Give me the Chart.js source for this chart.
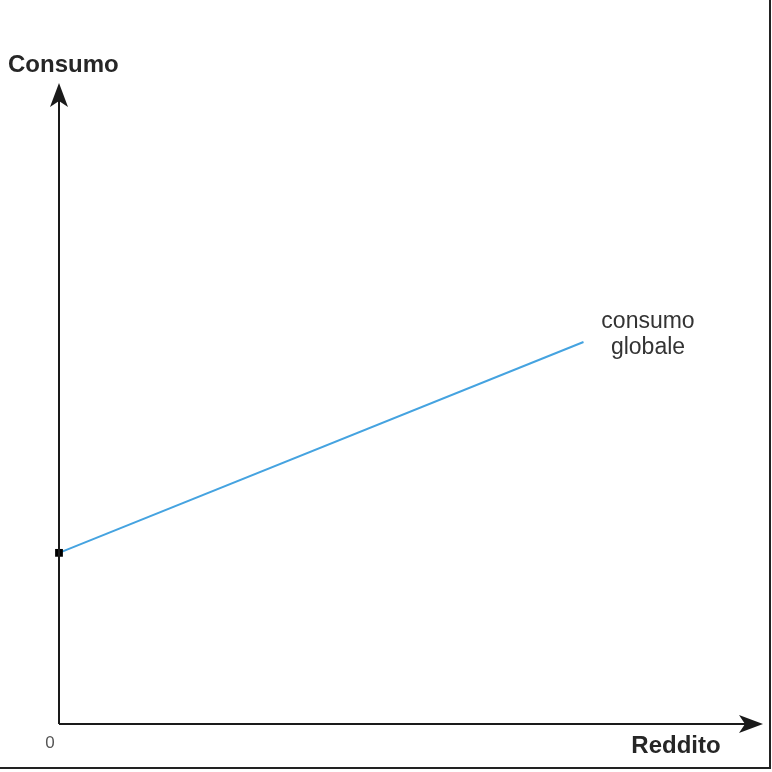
<!DOCTYPE html>
<html>
<head>
<meta charset="utf-8">
<script src="https://cdn.jsdelivr.net/npm/chart.js@4/dist/chart.umd.min.js"></script>
<style>
html,body{margin:0;padding:0;background:#fff;}
#wrap{width:772px;height:772px;position:relative;}
</style>
</head>
<body>
<div id="wrap"><canvas id="c" width="772" height="772"></canvas></div>
<script>
const reddito = [0, 7.45];
const consumo = [2.67, 5.96];
const yAxisTitle = 'Consumo';
const xAxisTitle = 'Reddito';
const originLabel = '0';
const seriesLabel = ['consumo', 'globale'];

const axesPlugin = {
  id: 'axesPlugin',
  afterDraw(chart) {
    const ctx = chart.ctx;
    const xs = chart.scales.x, ys = chart.scales.y;
    const x0 = xs.getPixelForValue(0), y0 = ys.getPixelForValue(0);
    const xEnd = xs.getPixelForValue(xs.max), yEnd = ys.getPixelForValue(ys.max);
    ctx.save();
    ctx.strokeStyle = '#1a1a1a';
    ctx.fillStyle = '#1a1a1a';
    ctx.lineWidth = 2;
    ctx.beginPath();
    ctx.moveTo(x0, y0); ctx.lineTo(xEnd - 12, y0);
    ctx.moveTo(x0, y0); ctx.lineTo(x0, yEnd + 12);
    ctx.stroke();
    // arrows
    ctx.beginPath();
    ctx.moveTo(xEnd, y0); ctx.lineTo(xEnd - 24, y0 - 9); ctx.lineTo(xEnd - 18, y0); ctx.lineTo(xEnd - 24, y0 + 9); ctx.closePath();
    ctx.fill();
    ctx.beginPath();
    ctx.moveTo(x0, yEnd); ctx.lineTo(x0 - 9, yEnd + 24); ctx.lineTo(x0, yEnd + 18); ctx.lineTo(x0 + 9, yEnd + 24); ctx.closePath();
    ctx.fill();
    // frame right & bottom
    ctx.lineWidth = 2;
    ctx.strokeStyle = '#222';
    ctx.beginPath();
    ctx.moveTo(770, 0); ctx.lineTo(770, 768);
    ctx.moveTo(0, 768); ctx.lineTo(771, 768);
    ctx.stroke();
    // texts
    ctx.fillStyle = '#262626';
    ctx.font = 'bold 24px "Liberation Sans", Arial, sans-serif';
    ctx.textBaseline = 'middle';
    ctx.textAlign = 'left';
    ctx.fillText(yAxisTitle, 8, 65);
    ctx.textAlign = 'center';
    ctx.fillText(xAxisTitle, 676, 746);
    ctx.font = '17px "Liberation Sans", Arial, sans-serif';
    ctx.fillStyle = '#555';
    ctx.fillText(originLabel, 50, 743);
    ctx.font = '23px "Liberation Sans", Arial, sans-serif';
    ctx.fillStyle = '#333';
    ctx.fillText(seriesLabel[0], 648, 322);
    ctx.fillText(seriesLabel[1], 648, 348);
    ctx.restore();
  }
};

new Chart(document.getElementById('c'), {
  type: 'line',
  data: {
    datasets: [{
      data: reddito.map((v, i) => ({x: v, y: consumo[i]})),
      borderColor: '#45a3e0',
      borderWidth: 2,
      pointStyle: 'rect',
      pointRadius: [5.5, 0],
      pointBackgroundColor: '#000',
      pointBorderColor: '#000',
      pointBorderWidth: 0,
      tension: 0,
      clip: false
    }]
  },
  options: {
    responsive: false,
    animation: false,
    layout: {padding: {left: 59, right: 9, top: 83, bottom: 48}},
    plugins: {legend: {display: false}, tooltip: {enabled: false}},
    scales: {
      x: {type: 'linear', min: 0, max: 10, display: false},
      y: {type: 'linear', min: 0, max: 10, display: false}
    }
  },
  plugins: [axesPlugin]
});
</script>
</body>
</html>
